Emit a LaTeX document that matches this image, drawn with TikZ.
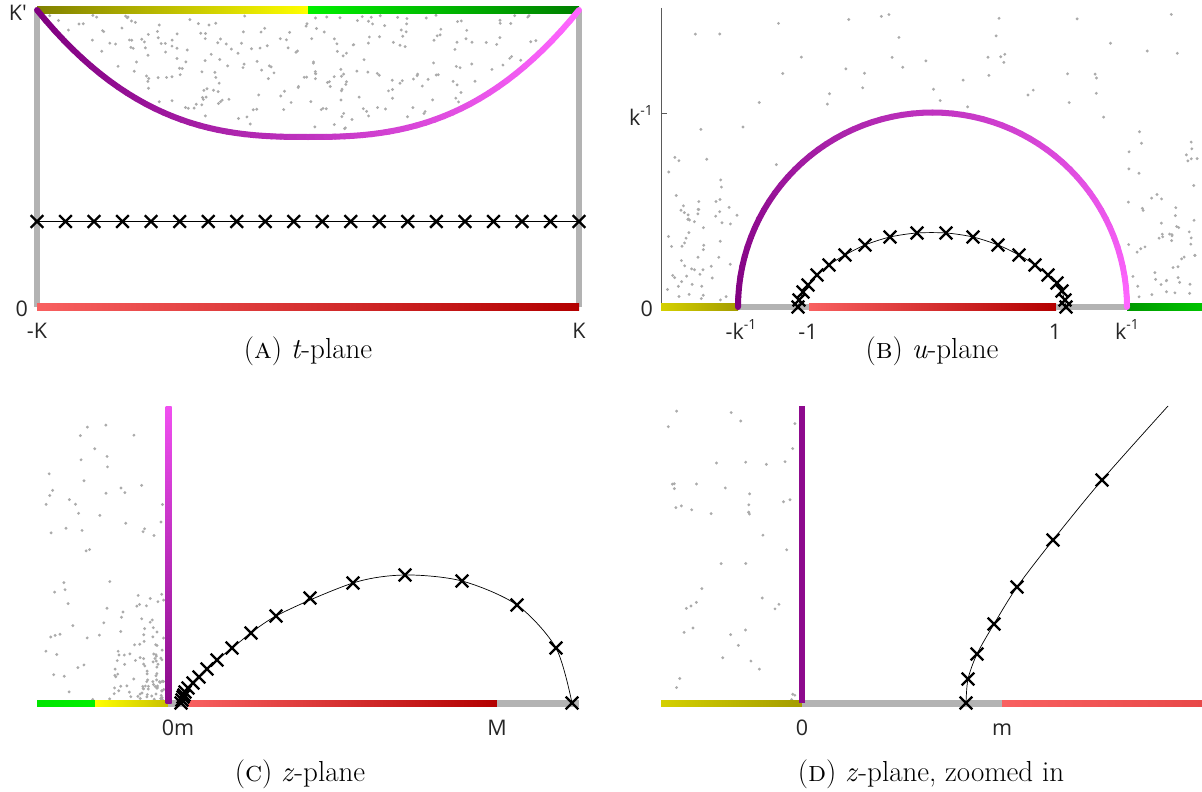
\documentclass[tikz,border=0pt]{standalone}
\usepackage{fontspec}
\newfontfamily\labf{Open Sans}
\definecolor{lgray}{HTML}{B3B3B3}
\definecolor{dotc}{HTML}{ABABAB}
\definecolor{axc}{HTML}{5A5A5A}
\definecolor{redL}{HTML}{F86060}
\definecolor{redD}{HTML}{B30000}
\definecolor{oliveA}{HTML}{808000}
\definecolor{yelA}{HTML}{FFFF00}
\definecolor{grnB}{HTML}{00F000}
\definecolor{grnD}{HTML}{007F00}
\definecolor{purA}{HTML}{800080}
\definecolor{pinkA}{HTML}{FF66FF}
\definecolor{yelB}{HTML}{D4D000}
\definecolor{yelC}{HTML}{A49C00}
\definecolor{grnE}{HTML}{009800}
\definecolor{grnF}{HTML}{00C400}
\definecolor{grnG}{HTML}{00E400}
\definecolor{yelD}{HTML}{C8C000}
\definecolor{pinkC}{HTML}{F050F0}
\definecolor{purC}{HTML}{8A0A8A}
\definecolor{purD}{HTML}{8E0A8E}
\definecolor{redM}{HTML}{E84848}
\newcommand\hseg[5]{\shade[left color=#4,right color=#5] (#1,#3-3.2) rectangle (#2,#3+3.2);}
\begin{document}
\begin{tikzpicture}[x=1pt,y=-1pt,
  thinl/.style={line width=0.7pt,black},
  grayax/.style={line width=6.5pt,draw=lgray},
  ticklab/.style={font=\labf\fontsize{21.5}{25}\selectfont,text=black!85,inner sep=0pt},
  caplab/.style={font=\fontsize{29}{33}\selectfont,inner sep=0pt,anchor=base},
  dotp/.style={fill=dotc},
  xm/.pic={\draw[line width=2.3pt,black] (-6.3,-6.3) -- (6.3,6.3) (-6.3,6.3) -- (6.3,-6.3);}]
\useasboundingbox (0,0) rectangle (1202,792);
\pgfmathsetseed{11}
% ---------------- dots ----------------
% panel A
\foreach \i in {1,...,380}{
  \pgfmathsetmacro\xx{40+536*rnd}
  \pgfmathsetmacro\yy{15+122*rnd}
  \pgfmathsetmacro\uu{abs((\xx-308)/271)}
  \pgfmathsetmacro\cy{10+127*(1-0.5*\uu*\uu*sqrt(\uu)*(1+sqrt(sqrt(\uu))))-7}
  \ifdim\yy pt<\cy pt \fill[dotp] (\xx,\yy) circle[radius=1.6pt];\fi
}
% panel B
\foreach \i in {1,...,100}{
  \pgfmathsetmacro\xx{666+532*rnd}
  \pgfmathsetmacro\yy{14+286*rnd}
  \pgfmathsetmacro\dd{veclen((\xx-932.5)/100,(\yy-307)/100)}
  \ifdim\dd pt>2.03pt \fill[dotp] (\xx,\yy) circle[radius=1.6pt];\fi
}
\foreach \i in {1,...,55}{
  \pgfmathsetmacro\xx{666+72*rnd}
  \pgfmathsetmacro\ra{rnd}
  \pgfmathsetmacro\yy{302-170*\ra*(0.4+0.6*rnd)}
  \pgfmathsetmacro\dd{veclen((\xx-932.5)/100,(\yy-307)/100)}
  \ifdim\dd pt>2.02pt \fill[dotp] (\xx,\yy) circle[radius=1.6pt];\fi
}
\foreach \i in {1,...,55}{
  \pgfmathsetmacro\xx{1128+70*rnd}
  \pgfmathsetmacro\ra{rnd}
  \pgfmathsetmacro\yy{302-180*\ra*(0.4+0.6*rnd)}
  \pgfmathsetmacro\dd{veclen((\xx-932.5)/100,(\yy-307)/100)}
  \ifdim\dd pt>2.02pt \fill[dotp] (\xx,\yy) circle[radius=1.6pt];\fi
}
% panel C
\foreach \i in {1,...,65}{
  \pgfmathsetmacro\xx{40+123*rnd}
  \pgfmathsetmacro\yy{420+280*rnd}
  \fill[dotp] (\xx,\yy) circle[radius=1.6pt];
}
\foreach \i in {1,...,90}{
  \pgfmathsetmacro\ra{rnd}
  \pgfmathsetmacro\xx{164-60*\ra*rnd}
  \pgfmathsetmacro\rb{rnd}
  \pgfmathsetmacro\yy{700-110*\rb*rnd}
  \fill[dotp] (\xx,\yy) circle[radius=1.6pt];
}
% panel D
\foreach \i in {1,...,50}{
  \pgfmathsetmacro\xx{664+132*rnd}
  \pgfmathsetmacro\yy{410+290*rnd}
  \fill[dotp] (\xx,\yy) circle[radius=1.6pt];
}
% ---------------- panel A ----------------
\draw[grayax] (37,10) -- (37,307);
\draw[grayax] (579,10) -- (579,307);
\hseg{37}{308}{10}{oliveA}{yelA}
\hseg{308}{579}{10}{grnB}{grnD}
\hseg{37}{579}{307}{redL}{redD}
\foreach \k in {0,...,59}{
  \pgfmathsetmacro\xa{37+\k*9.03333}
  \pgfmathsetmacro\xb{37+(\k+1)*9.03333}
  \pgfmathsetmacro\ua{abs((\xa-308)/271)}
  \pgfmathsetmacro\ub{abs((\xb-308)/271)}
  \pgfmathsetmacro\ya{10+127*(1-0.5*\ua*\ua*sqrt(\ua)*(1+sqrt(sqrt(\ua))))}
  \pgfmathsetmacro\yb{10+127*(1-0.5*\ub*\ub*sqrt(\ub)*(1+sqrt(sqrt(\ub))))}
  \pgfmathtruncatemacro\pc{100*\k/59}
  \draw[line width=6pt,line cap=round,pinkA!\pc!purA] (\xa,\ya) -- (\xb,\yb);
}
\draw[thinl] (37,221.5) -- (579,221.5);
\foreach \k in {0,...,19}{\pic at ({37+\k*28.5263},221.5) {xm};}
\node[ticklab,anchor=east] (aKp) at (27,13) {K'};
\node[ticklab,anchor=east] (a0) at (28,309) {0};
\node[ticklab,anchor=base] (amK) at (37,338) {-K};
\node[ticklab,anchor=base] (aK) at (579,338) {K};
\node[caplab] (capA) at (308,358) {(\textsc{a}) \textit{t}-plane};
% ---------------- panel B ----------------
\draw[axc,line width=0.8pt] (661,8) -- (661,307);
\draw[axc,line width=0.8pt] (661,113) -- (667,113);
\hseg{661}{738}{307}{yelB}{yelC}
\draw[line width=6.4pt,lgray] (738,307) -- (809,307);
\hseg{809}{1056}{307}{redL}{redD}
\draw[line width=6.4pt,lgray] (1056,307) -- (1127,307);
\hseg{1127}{1202}{307}{grnE}{grnF}
\foreach \k in {0,...,59}{
  \pgfmathsetmacro\aa{180-3*\k}
  \pgfmathsetmacro\ab{180-3*(\k+1)}
  \pgfmathtruncatemacro\pc{100*\k/59}
  \draw[line width=6pt,line cap=round,pinkA!\pc!purA]
    ({932.5+194.5*cos(\aa)},{307-194.5*sin(\aa)}) -- ({932.5+194.5*cos(\ab)},{307-194.5*sin(\ab)});
}
\draw[thinl] plot[smooth] coordinates {(798,307) (803,292) (808,285) (817,275) (829,265) (845,255) (865,245) (890,237) (917,233) (946,233) (973,237) (998,245) (1019,255) (1035,265) (1048,275) (1057,283) (1062,291) (1066,307)};
\foreach \a/\b in {798/307,799/300,803/292,808/285,817/275,829/265,845/255,865/245,890/237,917/233,946/233,973/237,998/245,1019/255,1035/265,1048/275,1057/283,1062/291,1065/300,1066/307}{\pic at (\a,\b) {xm};}
\node[ticklab,anchor=base east] (bk) at (653,125) {k\raisebox{0.45em}{\fontsize{14}{16}\selectfont -1}};
\node[ticklab,anchor=east] (b0) at (653,309) {0};
\node[ticklab,anchor=base] (bmk) at (741,339) {-k\raisebox{0.45em}{\fontsize{14}{16}\selectfont -1}};
\node[ticklab,anchor=base] (bm1) at (808,339) {-1};
\node[ticklab,anchor=base] (b1) at (1055,339) {1};
\node[ticklab,anchor=base] (bk2) at (1127,339) {k\raisebox{0.45em}{\fontsize{14}{16}\selectfont -1}};
\node[caplab] (capB) at (932,358) {(\textsc{b}) \textit{u}-plane};
% ---------------- panel C ----------------
\hseg{37}{95}{703.5}{grnG}{grnB}
\hseg{95}{168}{703.5}{yelA}{yelD}
\draw[line width=6.4pt,lgray] (168,703.5) -- (188,703.5);
\hseg{188}{497}{703.5}{redL}{redD}
\draw[line width=6.4pt,lgray] (497,703.5) -- (579,703.5);
\shade[top color=pinkC,bottom color=purC] (165.5,406) rectangle (171.5,703);
\draw[thinl] plot[smooth] coordinates {(181,703) (188,688) (207,669) (232,648) (276,616) (353,583) (405,575) (462,581) (517,605) (556,648) (572,703)};
\foreach \a/\b in {181/703,182/700,183/697,184/695,185/692,188/688,193/683,199/677,207/669,217/660,232/648,251/633,276/616,310/598,353/583,405/575,462/581,517/605,556/648,572/703}{\pic at (\a,\b) {xm};}
\node[ticklab,anchor=base] (c0m) at (178,735) {0m};
\node[ticklab,anchor=base] (cM) at (497,735) {M};
\node[caplab] (capC) at (300,781) {(\textsc{c}) \textit{z}-plane};
% ---------------- panel D ----------------
\hseg{661}{802}{703.5}{yelB}{yelC}
\draw[line width=6.4pt,lgray] (802,703.5) -- (1002,703.5);
\hseg{1002}{1202}{703.5}{redL}{redM}
\fill[purD] (799,406) rectangle (805,703);
\draw[thinl] plot[smooth] coordinates {(966,703) (968,679) (977,654) (994,624) (1017,587) (1053,540) (1102,480) (1168,406)};
\foreach \a/\b in {966/703,968/679,977/654,994/624,1017/587,1053/540,1102/480}{\pic at (\a,\b) {xm};}
\node[ticklab,anchor=base] (d0) at (802,735) {0};
\node[ticklab,anchor=base] (dm) at (1002,735) {m};
\node[caplab] (capD) at (931,781) {(\textsc{d}) \textit{z}-plane, zoomed in};
\end{tikzpicture}
\end{document}
